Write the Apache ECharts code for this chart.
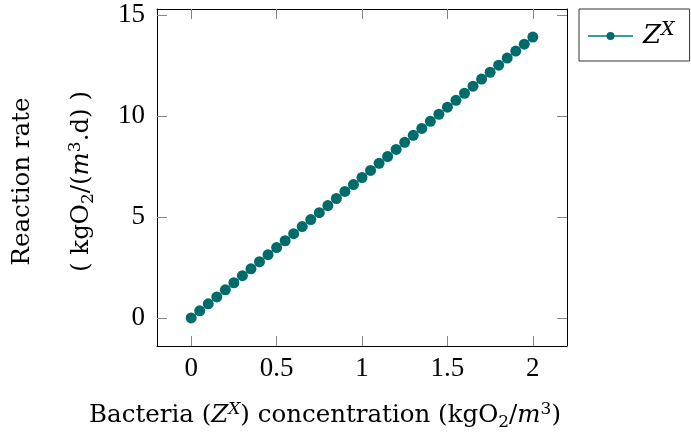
<!DOCTYPE html>
<html><head><meta charset="utf-8">
<script src="https://cdn.jsdelivr.net/npm/echarts@6/dist/echarts.min.js"></script>
<style>html,body{margin:0;padding:0;background:#fff}#c{width:691px;height:439px}</style>
</head><body><div id="c"></div>
<script>
const xValues = [0,0.05,0.1,0.15,0.2,0.25,0.3,0.35,0.4,0.45,0.5,0.55,0.6,0.65,0.7,0.75,0.8,0.85,0.9,0.95,1,1.05,1.1,1.15,1.2,1.25,1.3,1.35,1.4,1.45,1.5,1.55,1.6,1.65,1.7,1.75,1.8,1.85,1.9,1.95,2];
const rateValues = [0,0.35,0.70,1.04,1.39,1.74,2.09,2.43,2.78,3.13,3.48,3.82,4.17,4.52,4.87,5.21,5.56,5.91,6.26,6.60,6.95,7.30,7.65,7.99,8.34,8.69,9.04,9.38,9.73,10.08,10.43,10.77,11.12,11.47,11.82,12.16,12.51,12.86,13.21,13.55,13.90];
const xTicks = [0,0.5,1,1.5,2];
const yTicks = [0,5,10,15];
const seriesName = 'ZX';

const FONT = 'DejaVu Serif';
const TFONT = 'Liberation Serif';
const FS = 24.5;
const rich = {
  n: {fontFamily: FONT, fontSize: FS, color: '#000', lineHeight: 30},
  i: {fontFamily: FONT, fontSize: FS, fontStyle: 'italic', color: '#000', lineHeight: 30},
  sup: {fontFamily: FONT, fontSize: 17, color: '#000', lineHeight: 14, verticalAlign: 'top'},
  supi: {fontFamily: FONT, fontSize: 17, fontStyle: 'italic', color: '#000', lineHeight: 14, verticalAlign: 'top'},
  sub: {fontFamily: FONT, fontSize: 17, color: '#000', lineHeight: 12, verticalAlign: 'bottom'},
  gap: {fontSize: 10, lineHeight: 29},
  lz: {fontFamily: FONT, fontSize: 26, fontStyle: 'italic', color: '#000', lineHeight: 30, padding: [0, 0, 0, 5]},
  lx: {fontFamily: FONT, fontSize: 19, fontStyle: 'italic', color: '#000', lineHeight: 14, verticalAlign: 'top'}
};
const data = xValues.map((x, k) => [x, rateValues[k]]);
const tickStyle = {show: true, inside: true, length: 10, lineStyle: {color: '#888', width: 1}};
const chart = echarts.init(document.getElementById('c'));
chart.setOption({
  animation: false,
  grid: {left: 157, right: 124, top: 9, bottom: 93},
  legend: {
    left: 579, top: 9, orient: 'vertical',
    borderColor: '#333', borderWidth: 1, borderRadius: 0,
    padding: [12, 15, 12, 8],
    itemWidth: 45, itemHeight: 10,
    data: [seriesName],
    formatter: () => '{lz|Z}{lx|X}',
    textStyle: {rich: rich, fontFamily: FONT, fontSize: FS}
  },
  xAxis: [{
    type: 'value', min: -0.2, max: 2.2, position: 'bottom',
    name: '{n|Bacteria (}{i|Z}{supi|X}{n|) concentration (kgO}{sub|2}{n|/}{i|m}{sup|3}{n|)}',
    nameLocation: 'middle', nameGap: 55,
    nameTextStyle: {rich: rich, padding: [0, 74, 0, 0]},
    axisLine: {show: true, onZero: false, lineStyle: {color: '#000', width: 1}},
    axisTick: Object.assign({customValues: xTicks}, tickStyle),
    axisLabel: {customValues: xTicks, fontFamily: TFONT, fontSize: 27, color: '#000', margin: 9},
    splitLine: {show: false}
  }, {
    type: 'value', min: -0.2, max: 2.2, position: 'top',
    axisLine: {show: true, onZero: false, lineStyle: {color: '#000', width: 1}},
    axisTick: Object.assign({customValues: xTicks}, tickStyle),
    axisLabel: {show: false}, splitLine: {show: false}
  }],
  yAxis: [{
    type: 'value', min: -1.39, max: 15.29, position: 'left',
    name: '{n|Reaction rate}\n{gap| }\n{n|( kgO}{sub|2}{n|/(}{i|m}{sup|3}{n|.d) )}',
    nameLocation: 'middle', nameRotate: 90, nameGap: 60,
    nameTextStyle: {rich: rich, align: 'center', padding: [0, 8, 0, 0]},
    axisLine: {show: true, onZero: false, lineStyle: {color: '#000', width: 1}},
    axisTick: Object.assign({customValues: yTicks}, tickStyle),
    axisLabel: {customValues: yTicks, fontFamily: TFONT, fontSize: 27, color: '#000', margin: 12},
    splitLine: {show: false}
  }, {
    type: 'value', min: -1.39, max: 15.29, position: 'right',
    axisLine: {show: true, onZero: false, lineStyle: {color: '#000', width: 1}},
    axisTick: Object.assign({customValues: yTicks}, tickStyle),
    axisLabel: {show: false}, splitLine: {show: false}
  }],
  series: [{
    name: seriesName, type: 'line', xAxisIndex: 0, yAxisIndex: 0,
    data: data, symbol: 'circle', symbolSize: 11, showSymbol: true,
    lineStyle: {color: '#3f9a9a', width: 1},
    itemStyle: {color: '#006b6b'}
  }]
});
</script></body></html>
